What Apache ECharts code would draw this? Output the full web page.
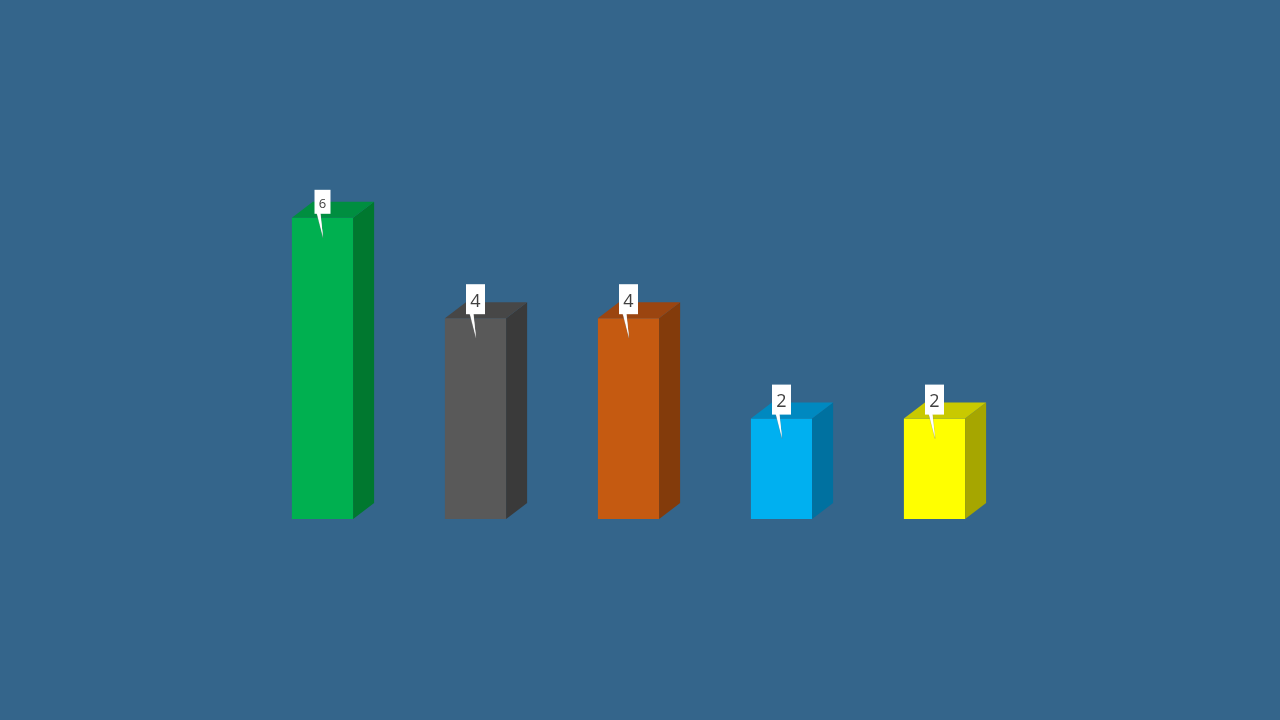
<!DOCTYPE html>
<html>
<head>
<meta charset="utf-8">
<script src="https://cdn.jsdelivr.net/npm/echarts@6/dist/echarts.min.js"></script>
<style>html,body{margin:0;padding:0;background:#34658B;}#c{width:1280px;height:720px;}</style>
</head>
<body>
<div id="c"></div>
<script>
const categories = ['A', 'B', 'C', 'D', 'E'];
const values = [6, 4, 4, 2, 2];

const frontColors = ['#00B050', '#595959', '#C55A11', '#00B0F0', '#FFFF00'];
const sideColors  = ['#00782F', '#3A3A3A', '#833B0B', '#0071A0', '#A6A600'];
const topColors   = ['#008E40', '#474747', '#9B4510', '#0089C0', '#C9C900'];
const labelFont   = [13, 18, 18, 18, 18];

const chart = echarts.init(document.getElementById('c'));
const DX = 21, DY = 16;

function renderItem(params, api) {
  const i = api.value(0);
  const v = api.value(1);
  const top = api.coord([i, v]);
  const bot = api.coord([i, 0]);
  const band = api.size([1, 0])[0];
  const w = band * 0.4;
  const cx = top[0];
  const x0 = cx - w / 2, x1 = cx + w / 2;
  const yt = top[1], yb = bot[1];
  const fs = labelFont[i];
  const bw = fs < 15 ? 16 : 19;
  const bh = fs < 15 ? 24 : 30;
  const boxTop = yt - (fs < 15 ? 28 : 34);
  const boxBottom = boxTop + bh;
  return {
    type: 'group',
    children: [
      { type: 'polygon', shape: { points: [[x0, yt], [x1, yt], [x1, yb], [x0, yb]] }, style: { fill: frontColors[i] } },
      { type: 'polygon', shape: { points: [[x1, yt], [x1 + DX, yt - DY], [x1 + DX, yb - DY], [x1, yb]] }, style: { fill: sideColors[i] } },
      { type: 'polygon', shape: { points: [[x0, yt], [x1, yt], [x1 + DX, yt - DY], [x0 + DX, yt - DY]] }, style: { fill: topColors[i] } },
      { type: 'polygon', shape: { points: [[cx - 6, boxBottom - 1], [cx - 2, boxBottom - 1], [cx + 0.5, yt + 20]] }, style: { fill: '#ffffff', stroke: 'rgba(120,120,120,0.5)', lineWidth: 0.5 } },
      { type: 'rect', shape: { x: cx - bw / 2, y: boxTop, width: bw, height: bh }, style: { fill: '#ffffff' } },
      { type: 'polygon', shape: { points: [[cx - 5.5, boxBottom - 2], [cx - 2.5, boxBottom - 2], [cx + 0.5, yt + 19]] }, style: { fill: '#ffffff' } },
      { type: 'text', style: { text: String(v), x: cx, y: boxTop + bh / 2 + 2.5, align: 'center', verticalAlign: 'middle', fill: '#404040', fontSize: fs, fontFamily: 'Open Sans, DejaVu Sans, sans-serif' } }
    ]
  };
}

chart.setOption({
  backgroundColor: '#34658B',
  animation: false,
  grid: { left: 246, right: 269, top: 17, bottom: 201 },
  xAxis: { type: 'category', data: categories, show: false },
  yAxis: { type: 'value', min: 0, max: 10, show: false },
  series: [{
    type: 'custom',
    renderItem: renderItem,
    data: values.map((v, i) => [i, v]),
    encode: { x: 0, y: 1 }
  }]
});
</script>
</body>
</html>
